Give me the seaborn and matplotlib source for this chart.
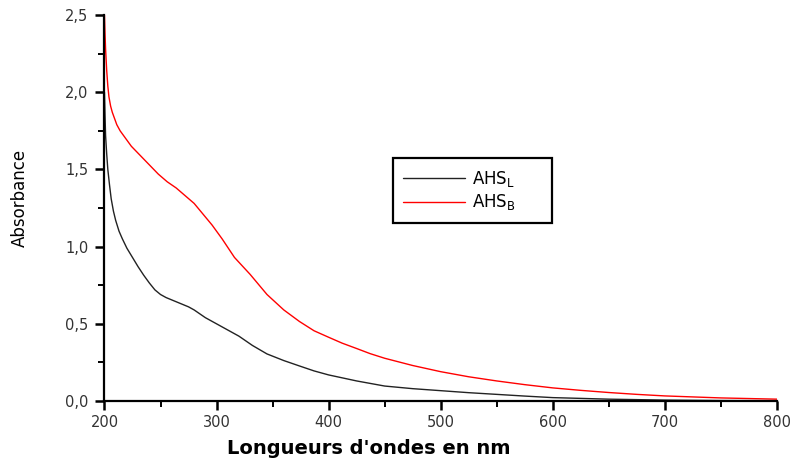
import matplotlib
matplotlib.use("Agg")
import matplotlib.pyplot as plt
from matplotlib.ticker import MultipleLocator, FuncFormatter
import seaborn as sns
import pandas as pd

# Wavelengths (nm) and absorbance
wl_L = [200, 200.5, 201, 202, 203, 204.5, 206, 208, 210, 213, 216, 220, 225, 230, 235, 240, 245,
        250, 255, 260, 265, 270, 275, 280, 285, 290, 300, 310, 320, 332, 345, 360, 374, 387, 400,
        425, 450, 475, 500, 525, 550, 575, 600, 650, 700, 750, 800]
abs_L = [2.00, 1.85, 1.72, 1.60, 1.50, 1.40, 1.31, 1.23, 1.17, 1.10, 1.05, 0.99, 0.93, 0.87, 0.815, 0.765, 0.72,
         0.69, 0.67, 0.655, 0.64, 0.625, 0.61, 0.59, 0.565, 0.54, 0.50, 0.46, 0.42, 0.36, 0.305, 0.262, 0.227, 0.195, 0.169,
         0.13, 0.097, 0.08, 0.067, 0.054, 0.043, 0.032, 0.022, 0.012, 0.006, 0.003, 0.002]

wl_B = [200, 200.5, 201, 202, 203, 204, 205.5, 207, 209, 211, 214, 218, 224, 232, 240, 248, 256,
        264, 272, 280, 288, 296, 305, 316, 330, 345, 360, 374, 387, 400, 412, 425, 437, 450,
        475, 500, 525, 550, 575, 600, 625, 650, 675, 700, 750, 800]
abs_B = [2.50, 2.38, 2.28, 2.14, 2.04, 1.97, 1.91, 1.87, 1.83, 1.79, 1.75, 1.71, 1.65, 1.59, 1.53, 1.47, 1.42,
         1.38, 1.33, 1.28, 1.21, 1.14, 1.05, 0.93, 0.82, 0.69, 0.59, 0.515, 0.455, 0.413, 0.375, 0.34, 0.307, 0.277,
         0.23, 0.19, 0.157, 0.13, 0.106, 0.085, 0.069, 0.055, 0.043, 0.033, 0.02, 0.012]

label_L = "AHS$_\\mathregular{L}$"
label_B = "AHS$_\\mathregular{B}$"

df = pd.concat([
    pd.DataFrame({"wl": wl_L, "A": abs_L, "s": label_L}),
    pd.DataFrame({"wl": wl_B, "A": abs_B, "s": label_B}),
], ignore_index=True)

sns.set_style("ticks")
plt.rcParams["font.family"] = ["DejaVu Sans"]
plt.rcParams["mathtext.default"] = "regular"
plt.rcParams["text.color"] = "black"
plt.rcParams["axes.labelcolor"] = "black"

fig = plt.figure(figsize=(7.95, 4.65), dpi=100)
ax = fig.add_axes([0.1314, 0.1376, 0.8459, 0.830])

sns.lineplot(data=df, x="wl", y="A", hue="s", palette={label_L: "#222222", label_B: "#ff0000"},
             linewidth=1.0, ax=ax, sort=False, estimator=None)

ax.set_xlim(200, 800)
ax.set_ylim(0, 2.5)
ax.xaxis.set_major_locator(MultipleLocator(100))
ax.xaxis.set_minor_locator(MultipleLocator(50))
ax.yaxis.set_major_locator(MultipleLocator(0.5))
ax.yaxis.set_minor_locator(MultipleLocator(0.25))
ax.yaxis.set_major_formatter(FuncFormatter(lambda v, p: f"{v:.1f}".replace(".", ",")))

for side in ["top", "right"]:
    ax.spines[side].set_visible(False)
for side in ["left", "bottom"]:
    ax.spines[side].set_linewidth(1.6)
    ax.spines[side].set_color("black")

ax.tick_params(which="major", direction="out", length=6.5, width=1.8, labelsize=10.5,
               labelcolor="#333333", color="black", pad=3.5)
ax.tick_params(axis="y", which="major", pad=5)
ax.tick_params(which="minor", direction="out", length=4.3, width=1.4, color="black")

ax.set_xlabel("Longueurs d'ondes en nm", fontsize=14, fontweight="bold", color="black")
ax.xaxis.set_label_coords(0.393, -0.098)
ax.set_ylabel("Absorbance", fontsize=12, color="black")
ax.yaxis.set_label_coords(-0.113, 0.526)

leg = ax.legend(loc="upper left", bbox_to_anchor=(0.4287, 0.4611, 0.2363, 0.1684), mode="expand",
                borderaxespad=0, frameon=True, fancybox=False, fontsize=12, handlelength=3.7,
                borderpad=0.64, labelspacing=0.22, handletextpad=0.4)
leg.get_frame().set_edgecolor("black")
leg.get_frame().set_linewidth(1.6)
leg.get_frame().set_alpha(1)
leg.set_title(None)
for t in leg.get_texts():
    t.set_color("black")

fig.savefig("out.png", dpi=100)
